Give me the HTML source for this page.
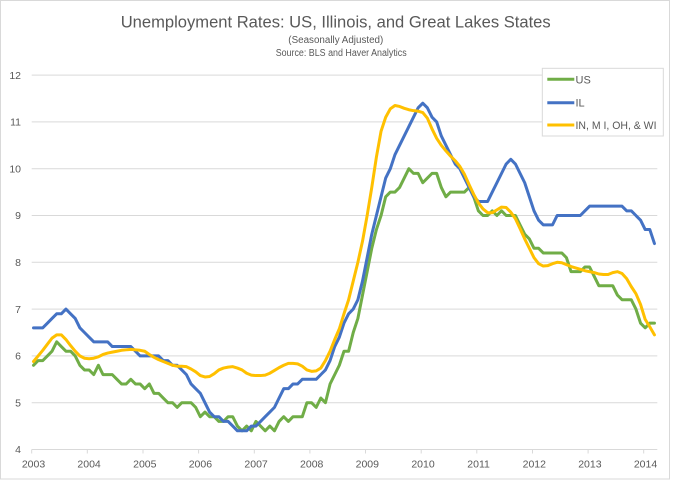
<!DOCTYPE html>
<html>
<head>
<meta charset="utf-8">
<style>
  html,body{margin:0;padding:0;background:#fff;}
  svg{display:block;}
  text{font-family:"Liberation Sans",Arial,sans-serif;fill:#595959;}
</style>
</head>
<body>
<svg width="673" height="480" viewBox="0 0 673 480" xmlns="http://www.w3.org/2000/svg">
  <rect x="0" y="0" width="673" height="480" fill="#fff"/>
  <rect x="0.5" y="0.5" width="669" height="478.5" fill="none" stroke="#d9d9d9" stroke-width="1"/>

  <!-- Titles -->
  <text x="120.7" y="27.3" font-size="17" textLength="430" lengthAdjust="spacingAndGlyphs">Unemployment Rates: US, Illinois, and Great Lakes States</text>
  <text x="288.3" y="42.8" font-size="10" textLength="95" lengthAdjust="spacingAndGlyphs">(Seasonally Adjusted)</text>
  <text x="275.7" y="55.8" font-size="10" textLength="131" lengthAdjust="spacingAndGlyphs">Source: BLS and Haver Analytics</text>

  <!-- Gridlines -->
  <g stroke="#d9d9d9" stroke-width="1">
    <line x1="31.7" y1="75.1" x2="657.3" y2="75.1"/>
    <line x1="31.7" y1="121.9" x2="657.3" y2="121.9"/>
    <line x1="31.7" y1="168.7" x2="657.3" y2="168.7"/>
    <line x1="31.7" y1="215.5" x2="657.3" y2="215.5"/>
    <line x1="31.7" y1="262.3" x2="657.3" y2="262.3"/>
    <line x1="31.7" y1="309.1" x2="657.3" y2="309.1"/>
    <line x1="31.7" y1="355.9" x2="657.3" y2="355.9"/>
    <line x1="31.7" y1="402.7" x2="657.3" y2="402.7"/>
    <line x1="31.7" y1="449.5" x2="657.3" y2="449.5"/>
    <!-- ticks -->
    <line x1="31.7" y1="449.5" x2="31.7" y2="453.5"/>
    <line x1="87.3" y1="449.5" x2="87.3" y2="453.5"/>
    <line x1="143.0" y1="449.5" x2="143.0" y2="453.5"/>
    <line x1="198.6" y1="449.5" x2="198.6" y2="453.5"/>
    <line x1="254.3" y1="449.5" x2="254.3" y2="453.5"/>
    <line x1="309.9" y1="449.5" x2="309.9" y2="453.5"/>
    <line x1="365.5" y1="449.5" x2="365.5" y2="453.5"/>
    <line x1="421.2" y1="449.5" x2="421.2" y2="453.5"/>
    <line x1="476.8" y1="449.5" x2="476.8" y2="453.5"/>
    <line x1="532.5" y1="449.5" x2="532.5" y2="453.5"/>
    <line x1="588.1" y1="449.5" x2="588.1" y2="453.5"/>
    <line x1="643.7" y1="449.5" x2="643.7" y2="453.5"/>
  </g>

  <!-- Y labels -->
  <g font-size="10.5" text-anchor="end">
    <text x="21" y="78.8">12</text>
    <text x="21" y="125.6">11</text>
    <text x="21" y="172.4">10</text>
    <text x="21" y="219.2">9</text>
    <text x="21" y="266.0">8</text>
    <text x="21" y="312.8">7</text>
    <text x="21" y="359.6">6</text>
    <text x="21" y="406.4">5</text>
    <text x="21" y="453.2">4</text>
  </g>

  <!-- X labels -->
  <g font-size="10.5" text-anchor="middle">
    <text x="33.5" y="467.7">2003</text>
    <text x="89.1" y="467.7">2004</text>
    <text x="144.8" y="467.7">2005</text>
    <text x="200.4" y="467.7">2006</text>
    <text x="256.1" y="467.7">2007</text>
    <text x="311.7" y="467.7">2008</text>
    <text x="367.3" y="467.7">2009</text>
    <text x="423.0" y="467.7">2010</text>
    <text x="478.6" y="467.7">2011</text>
    <text x="534.3" y="467.7">2012</text>
    <text x="589.9" y="467.7">2013</text>
    <text x="645.5" y="467.7">2014</text>
  </g>

  <!-- Series: data coords (month index, value) -->
  <g transform="matrix(4.634 0 0 -46.8 33.5 636.7)" fill="none" stroke-linejoin="round" stroke-linecap="round">
    <polyline vector-effect="non-scaling-stroke" stroke="#70AD47" stroke-width="3" points="0,5.8 1,5.9 2,5.9 3,6.0 4,6.1 5,6.3 6,6.2 7,6.1 8,6.1 9,6.0 10,5.8 11,5.7 12,5.7 13,5.6 14,5.8 15,5.6 16,5.6 17,5.6 18,5.5 19,5.4 20,5.4 21,5.5 22,5.4 23,5.4 24,5.3 25,5.4 26,5.2 27,5.2 28,5.1 29,5.0 30,5.0 31,4.9 32,5.0 33,5.0 34,5.0 35,4.9 36,4.7 37,4.8 38,4.7 39,4.7 40,4.6 41,4.6 42,4.7 43,4.7 44,4.5 45,4.4 46,4.5 47,4.4 48,4.6 49,4.5 50,4.4 51,4.5 52,4.4 53,4.6 54,4.7 55,4.6 56,4.7 57,4.7 58,4.7 59,5.0 60,5.0 61,4.9 62,5.1 63,5.0 64,5.4 65,5.6 66,5.8 67,6.1 68,6.1 69,6.5 70,6.8 71,7.3 72,7.8 73,8.3 74,8.7 75,9.0 76,9.4 77,9.5 78,9.5 79,9.6 80,9.8 81,10.0 82,9.9 83,9.9 84,9.7 85,9.8 86,9.9 87,9.9 88,9.6 89,9.4 90,9.5 91,9.5 92,9.5 93,9.5 94,9.6 95,9.4 96,9.1 97,9.0 98,9.0 99,9.1 100,9.0 101,9.1 102,9.0 103,9.0 104,9.0 105,8.8 106,8.6 107,8.5 108,8.3 109,8.3 110,8.2 111,8.2 112,8.2 113,8.2 114,8.2 115,8.1 116,7.8 117,7.8 118,7.8 119,7.9 120,7.9 121,7.7 122,7.5 123,7.5 124,7.5 125,7.5 126,7.3 127,7.2 128,7.2 129,7.2 130,7.0 131,6.7 132,6.6 133,6.7 134,6.7"/>
    <polyline vector-effect="non-scaling-stroke" stroke="#4472C4" stroke-width="3" points="0,6.6 1,6.6 2,6.6 3,6.7 4,6.8 5,6.9 6,6.9 7,7.0 8,6.9 9,6.8 10,6.6 11,6.5 12,6.4 13,6.3 14,6.3 15,6.3 16,6.3 17,6.2 18,6.2 19,6.2 20,6.2 21,6.2 22,6.1 23,6.0 24,6.0 25,6.0 26,6.0 27,6.0 28,5.9 29,5.9 30,5.8 31,5.8 32,5.7 33,5.6 34,5.4 35,5.3 36,5.2 37,5.0 38,4.8 39,4.7 40,4.7 41,4.6 42,4.6 43,4.5 44,4.4 45,4.4 46,4.4 47,4.5 48,4.5 49,4.6 50,4.7 51,4.8 52,4.9 53,5.1 54,5.3 55,5.3 56,5.4 57,5.4 58,5.5 59,5.5 60,5.5 61,5.5 62,5.6 63,5.7 64,5.9 65,6.2 66,6.4 67,6.7 68,6.9 69,7.0 70,7.2 71,7.6 72,8.1 73,8.6 74,9.0 75,9.4 76,9.8 77,10.0 78,10.3 79,10.5 80,10.7 81,10.9 82,11.1 83,11.3 84,11.4 85,11.3 86,11.1 87,11.0 88,10.7 89,10.5 90,10.3 91,10.1 92,10.0 93,9.8 94,9.6 95,9.4 96,9.3 97,9.3 98,9.3 99,9.5 100,9.7 101,9.9 102,10.1 103,10.2 104,10.1 105,9.9 106,9.7 107,9.4 108,9.1 109,8.9 110,8.8 111,8.8 112,8.8 113,9.0 114,9.0 115,9.0 116,9.0 117,9.0 118,9.0 119,9.1 120,9.2 121,9.2 122,9.2 123,9.2 124,9.2 125,9.2 126,9.2 127,9.2 128,9.1 129,9.1 130,9.0 131,8.9 132,8.7 133,8.7 134,8.4"/>
    <polyline vector-effect="non-scaling-stroke" stroke="#FFC000" stroke-width="3" points="0,5.88 1,6.0 2,6.12 3,6.25 4,6.38 5,6.45 6,6.45 7,6.35 8,6.22 9,6.1 10,6.0 11,5.95 12,5.94 13,5.95 14,5.98 15,6.03 16,6.06 17,6.08 18,6.1 19,6.12 20,6.13 21,6.14 22,6.13 23,6.12 24,6.1 25,6.03 26,5.97 27,5.92 28,5.88 29,5.84 30,5.8 31,5.78 32,5.78 33,5.77 34,5.72 35,5.66 36,5.58 37,5.55 38,5.56 39,5.62 40,5.7 41,5.74 42,5.76 43,5.77 44,5.74 45,5.7 46,5.63 47,5.59 48,5.58 49,5.58 50,5.59 51,5.63 52,5.69 53,5.75 54,5.8 55,5.84 56,5.84 57,5.83 58,5.78 59,5.7 60,5.67 61,5.68 62,5.74 63,5.9 64,6.1 65,6.35 66,6.58 67,6.9 68,7.2 69,7.6 70,8.0 71,8.45 72,9.0 73,9.6 74,10.25 75,10.8 76,11.1 77,11.28 78,11.35 79,11.33 80,11.29 81,11.26 82,11.24 83,11.23 84,11.2 85,11.08 86,10.85 87,10.65 88,10.5 89,10.38 90,10.27 91,10.17 92,10.05 93,9.88 94,9.66 95,9.45 96,9.27 97,9.14 98,9.06 99,9.06 100,9.12 101,9.18 102,9.17 103,9.07 104,8.93 105,8.72 106,8.5 107,8.3 108,8.1 109,7.97 110,7.92 111,7.93 112,7.97 113,8.0 114,7.99 115,7.95 116,7.91 117,7.88 118,7.85 119,7.82 120,7.8 121,7.78 122,7.75 123,7.74 124,7.74 125,7.78 126,7.8 127,7.76 128,7.65 129,7.48 130,7.33 131,7.1 132,6.78 133,6.62 134,6.45"/>
  </g>

  <!-- Legend -->
  <rect x="542.3" y="68.3" width="121" height="67.7" fill="#fff" stroke="#d9d9d9" stroke-width="1"/>
  <line x1="547.3" y1="79.3" x2="574.3" y2="79.3" stroke="#70AD47" stroke-width="3"/>
  <line x1="547.3" y1="102.7" x2="574.3" y2="102.7" stroke="#4472C4" stroke-width="3"/>
  <line x1="547.3" y1="125" x2="574.3" y2="125" stroke="#FFC000" stroke-width="3"/>
  <g font-size="11">
    <text x="575.5" y="83.3">US</text>
    <text x="575.5" y="106.7">IL</text>
    <text x="575.5" y="129" textLength="81" lengthAdjust="spacingAndGlyphs">IN, M I, OH, &amp; WI</text>
  </g>
</svg>
</body>
</html>
